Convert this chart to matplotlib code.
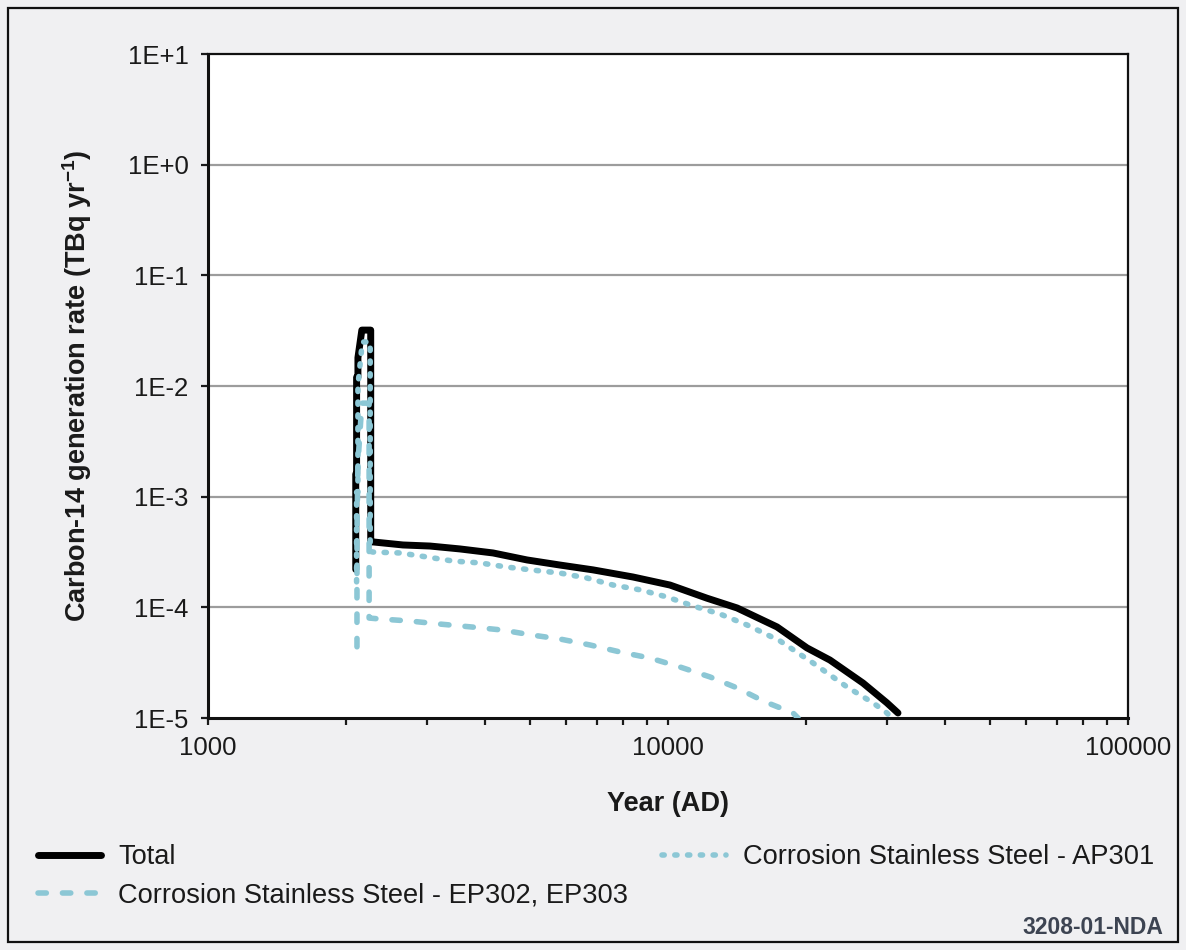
import matplotlib
matplotlib.use("Agg")
import matplotlib.pyplot as plt
from matplotlib.lines import Line2D
from matplotlib.patches import Rectangle
from matplotlib.ticker import FixedLocator, LogLocator, NullFormatter

plt.rcParams['font.family'] = ['Liberation Sans', 'DejaVu Sans']
plt.rcParams['mathtext.fontset'] = 'custom'
plt.rcParams['mathtext.rm'] = 'Liberation Sans'
plt.rcParams['mathtext.bf'] = 'Liberation Sans:bold'

# Carbon-14 generation rate (TBq/yr) by year
years_total = [2095, 2095, 2104, 2104, 2118, 2118, 2160, 2258, 2258, 2284, 2654, 3038,
               3530, 4165, 4938, 5826, 6871, 8391, 10100, 12150, 14130, 17260, 20050,
               22490, 26540, 29920, 31620]
rate_total = [2.2e-4, 1.6e-3, 1.6e-3, 1.2e-2, 1.2e-2, 1.8e-2, 3.2e-2, 3.2e-2, 3.9e-4,
              3.9e-4, 3.66e-4, 3.58e-4, 3.37e-4, 3.10e-4, 2.68e-4, 2.41e-4, 2.18e-4,
              1.88e-4, 1.59e-4, 1.21e-4, 9.87e-5, 6.65e-5, 4.3e-5, 3.34e-5, 2.07e-5,
              1.37e-5, 1.11e-5]

years_ap301 = [2104, 2104, 2118, 2118, 2165, 2252, 2252, 2284, 2615, 2993, 3409, 3902,
               4467, 5088, 5826, 6668, 7596, 8695, 9950, 11330, 12970, 14850, 17520,
               20670, 24490, 27910, 29920, 30600]
rate_ap301 = [1.7e-4, 1.1e-3, 1.1e-3, 1.0e-2, 2.5e-2, 2.5e-2, 3.2e-4, 3.16e-4, 3.10e-4,
              2.85e-4, 2.62e-4, 2.52e-4, 2.31e-4, 2.17e-4, 2.04e-4, 1.84e-4, 1.59e-4,
              1.44e-4, 1.24e-4, 1.03e-4, 8.71e-5, 6.93e-5, 4.97e-5, 3.14e-5, 1.91e-5,
              1.37e-5, 1.11e-5, 1.0e-5]

years_ep302 = [2108, 2108, 2118, 2160, 2240, 2240, 2365, 2749, 3193, 3749, 4356, 5061,
               5826, 6768, 7865, 9140, 10620, 12340, 14130, 16250, 18700, 19170]
rate_ep302 = [4.4e-5, 5e-4, 2e-3, 7e-3, 7e-3, 8.0e-5, 7.85e-5, 7.52e-5, 7.06e-5, 6.64e-5,
              6.24e-5, 5.62e-5, 5.17e-5, 4.57e-5, 3.95e-5, 3.48e-5, 2.89e-5, 2.35e-5,
              1.87e-5, 1.40e-5, 1.11e-5, 1.0e-5]

y_ticks = [1e1, 1e0, 1e-1, 1e-2, 1e-3, 1e-4, 1e-5]
y_labels = ['1E+1', '1E+0', '1E-1', '1E-2', '1E-3', '1E-4', '1E-5']
x_ticks = [1000, 10000, 100000]
x_labels = ['1000', '10000', '100000']

label_total = 'Total'
label_ap301 = 'Corrosion Stainless Steel - AP301'
label_ep302 = 'Corrosion Stainless Steel - EP302, EP303'

BG = '#f0f0f2'
BLUE = '#8cc7d5'
LW_TOTAL = 5.0
LW_BLUE = 4.0
DASHED = (0, (1.5, 2.9))
DOTTED = (0, (0.4, 1.9))

fig = plt.figure(figsize=(11.86, 9.5), dpi=100, facecolor=BG)
ax = fig.add_axes([208 / 1186, 1 - 718 / 950, 920 / 1186, 664 / 950])
ax.set_facecolor('white')
ax.set_xscale('log')
ax.set_yscale('log')
ax.set_xlim(1000, 100000)
ax.set_ylim(1e-5, 1e1)

for y in y_ticks[1:-1]:
    ax.axhline(y, color='#9c9c9c', lw=1.6, zorder=1)

ax.plot(years_total, rate_total, color='black', lw=LW_TOTAL, solid_capstyle='round',
        solid_joinstyle='round', zorder=3)
ax.plot(years_ep302, rate_ep302, color=BLUE, lw=LW_BLUE, ls=DASHED,
        dash_capstyle='round', zorder=4)
ax.plot(years_ap301, rate_ap301, color=BLUE, lw=LW_BLUE, ls=DOTTED,
        dash_capstyle='round', zorder=5)

ax.yaxis.set_major_locator(FixedLocator(y_ticks))
ax.set_yticklabels(y_labels)
ax.yaxis.set_minor_locator(FixedLocator([]))
ax.xaxis.set_major_locator(FixedLocator(x_ticks))
ax.set_xticklabels(x_labels)
ax.xaxis.set_minor_locator(LogLocator(base=10, subs=range(2, 10)))
ax.xaxis.set_minor_formatter(NullFormatter())

ax.tick_params(axis='both', which='both', direction='out', length=5, width=1.6,
               colors='#1a1a1a', labelsize=18.5)
ax.tick_params(axis='y', pad=9)
ax.tick_params(axis='x', pad=8)

for side in ['left', 'bottom']:
    ax.spines[side].set_linewidth(2.2)
for side in ['top', 'right']:
    ax.spines[side].set_linewidth(1.6)
for s in ax.spines.values():
    s.set_color('#111111')

ax.set_xlabel('Year (AD)', fontsize=19.5, fontweight='bold', labelpad=22, color='#1a1a1a')
ax.set_ylabel(r'Carbon-14 generation rate (TBq yr$^{\mathbf{-1}}$)', fontsize=19.5,
              fontweight='bold', labelpad=24, color='#1a1a1a')

handles = [
    Line2D([], [], color='black', lw=LW_TOTAL, solid_capstyle='round'),
    Line2D([], [], color=BLUE, lw=LW_BLUE, ls=DASHED, dash_capstyle='round'),
    Line2D([], [], color=BLUE, lw=LW_BLUE, ls=DOTTED, dash_capstyle='round'),
]
fig.legend(handles, [label_total, label_ep302, label_ap301], ncol=2,
           loc='upper left', bbox_to_anchor=(13 / 1186, 1 - 820 / 950),
           frameon=False, fontsize=19.6, handlelength=2.35, handletextpad=0.62,
           columnspacing=1.25, labelspacing=0.45, labelcolor='#1a1a1a')

fig.text(1163 / 1186, 1 - 928 / 950, '3208-01-NDA', ha='right', va='center',
         fontsize=16.5, fontweight='bold', color='#3d4452')

fig.patches.append(Rectangle((8 / 1186, 8 / 950), 1170 / 1186, 934 / 950,
                             transform=fig.transFigure, fill=False,
                             edgecolor='#111111', lw=1.6))

fig.savefig('out.png', dpi=100, facecolor=BG)
